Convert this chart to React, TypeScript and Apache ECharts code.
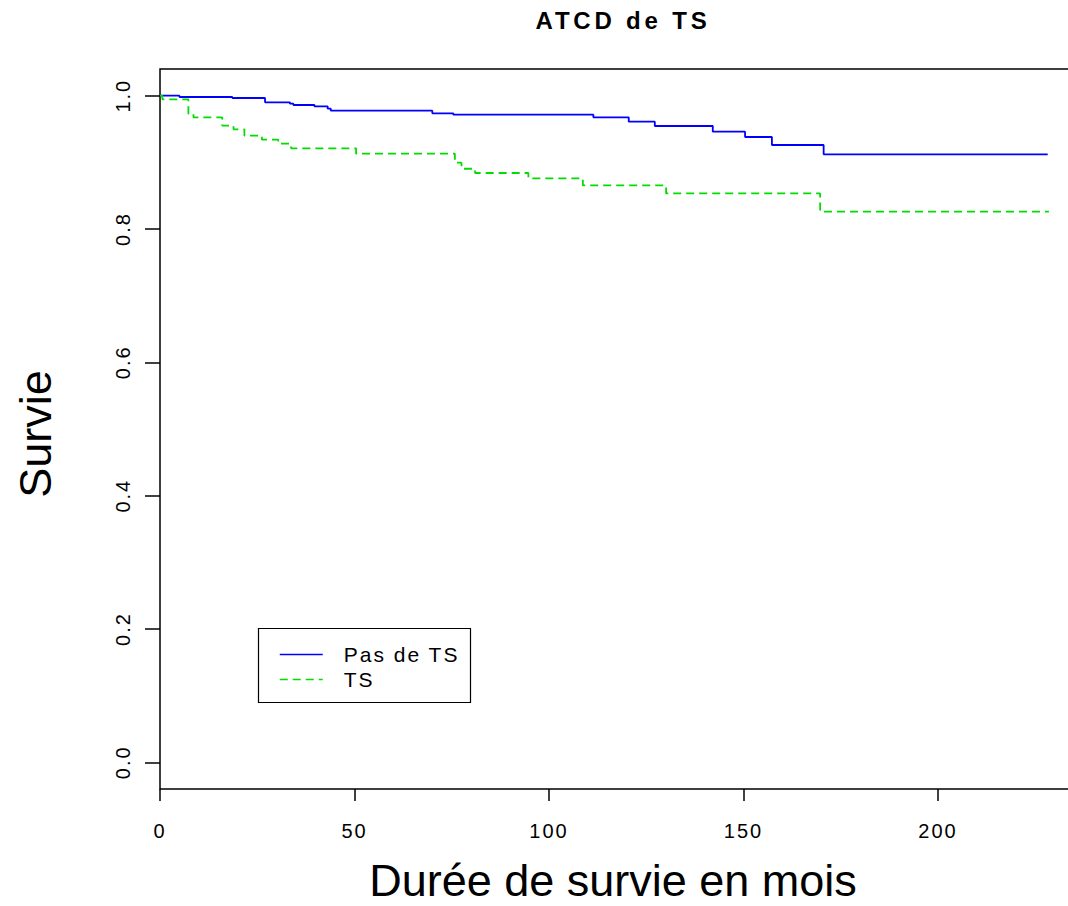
import React, { useEffect, useRef } from "react";
import * as echarts from "echarts";

const chartTitle = "ATCD de TS";
const xAxisTitle = "Durée de survie en mois";
const yAxisTitle = "Survie";
const seriesNames = ["Pas de TS", "TS"];
const xTicks = [0, 50, 100, 150, 200];
const yTicks = [0, 0.2, 0.4, 0.6, 0.8, 1.0];

// Kaplan-Meier steps: time (months) and survival after the event at that time
const pasDeTSTimes = [0, 5, 18.6, 27, 33.4, 34.3, 39.7, 43.1, 43.9, 70, 75.4, 111.4, 120.5, 127.2, 142.1, 150.4, 157.3, 170.6, 228.2];
const pasDeTSSurvival = [1.0, 0.998, 0.9965, 0.99, 0.988, 0.986, 0.984, 0.9805, 0.9775, 0.9735, 0.9715, 0.9675, 0.961, 0.9545, 0.946, 0.938, 0.926, 0.912, 0.912];

const tsTimes = [0, 0.6, 7.3, 8.6, 16, 18.9, 21.7, 26.2, 30.4, 33.7, 50.4, 75.8, 77.5, 81, 94.7, 108.7, 130.1, 169.7, 228.5];
const tsSurvival = [1.0, 0.9945, 0.973, 0.9675, 0.955, 0.9495, 0.94, 0.934, 0.928, 0.921, 0.913, 0.8995, 0.8904, 0.884, 0.876, 0.8653, 0.8533, 0.826, 0.826];

const FONT = "'Liberation Sans', Arial, Helvetica, sans-serif";
const BLUE = "#0000ff";
const GREEN = "#00dd00";

export default function App() {
  const ref = useRef<HTMLDivElement>(null);

  useEffect(() => {
    if (!ref.current) return;
    const chart = echarts.init(ref.current, undefined, { renderer: "svg" });
    const toPairs = (ts: number[], vs: number[]) => ts.map((t, i) => [t, vs[i]]);

    chart.setOption({
      animation: false,
      backgroundColor: "#ffffff",
      grid: {
        left: 160,
        right: 0,
        top: 69,
        bottom: 117,
        show: true,
        borderColor: "#000",
        borderWidth: 1.5,
        backgroundColor: "transparent",
      },
      xAxis: {
        type: "value",
        min: 0,
        max: 236.5,
        interval: 50,
        splitLine: { show: false },
        axisLine: { show: false, onZero: false },
        axisTick: {
          show: true,
          inside: false,
          length: 12,
          customValues: xTicks,
          lineStyle: { color: "#000", width: 1.5 },
        },
        axisLabel: {
          customValues: xTicks,
          margin: 32,
          color: "#000",
          fontFamily: FONT,
          fontSize: 20,
          formatter: (v: number) => String(v),
        },
      },
      yAxis: {
        type: "value",
        min: -0.04,
        max: 1.04,
        splitLine: { show: false },
        axisLine: { show: false, onZero: false },
        axisTick: {
          show: true,
          inside: false,
          length: 15,
          customValues: yTicks,
          lineStyle: { color: "#000", width: 1.5 },
        },
        axisLabel: {
          customValues: yTicks,
          rotate: 90,
          margin: 27,
          color: "#000",
          fontFamily: FONT,
          fontSize: 20,
          formatter: (v: number) => v.toFixed(1),
        },
      },
      legend: {
        data: seriesNames,
        orient: "vertical",
        left: 279,
        top: 644,
        padding: 0,
        itemWidth: 43,
        itemHeight: 14,
        itemGap: 4,
        selectedMode: false,
        itemStyle: { opacity: 0 },
        lineStyle: { width: 1.5 },
        textStyle: {
          color: "#000",
          fontFamily: FONT,
          fontSize: 21,
          padding: [8, 0, 0, 16],
        },
      },
      series: [
        {
          name: seriesNames[0],
          type: "line",
          step: "end",
          symbol: "none",
          showSymbol: false,
          data: toPairs(pasDeTSTimes, pasDeTSSurvival),
          lineStyle: { color: BLUE, width: 1.8, type: "solid" },
          itemStyle: { color: BLUE },
          emphasis: { disabled: true },
          silent: true,
        },
        {
          name: seriesNames[1],
          type: "line",
          step: "end",
          symbol: "none",
          showSymbol: false,
          data: toPairs(tsTimes, tsSurvival),
          lineStyle: { color: GREEN, width: 1.8, type: [8, 5] },
          itemStyle: { color: GREEN },
          emphasis: { disabled: true },
          silent: true,
        },
      ],
      graphic: [
        {
          type: "text",
          x: 623,
          y: 20,
          style: {
            text: chartTitle,
            fontFamily: FONT,
            fontSize: 24,
            fontWeight: "bold",
            fill: "#000",
            align: "center",
            verticalAlign: "middle",
          },
        },
        {
          type: "text",
          x: 613,
          y: 880,
          style: {
            text: xAxisTitle,
            fontFamily: FONT,
            fontSize: 45,
            fill: "#000",
            align: "center",
            verticalAlign: "middle",
          },
        },
        {
          type: "text",
          x: 35,
          y: 434,
          rotation: Math.PI / 2,
          style: {
            text: yAxisTitle,
            fontFamily: FONT,
            fontSize: 45,
            fill: "#000",
            align: "center",
            verticalAlign: "middle",
          },
        },
        {
          type: "rect",
          shape: { x: 258.5, y: 628.5, width: 212, height: 74 },
          style: { fill: "none", stroke: "#000", lineWidth: 1.2 },
          silent: true,
        },
      ],
    });

    return () => {
      chart.dispose();
    };
  }, []);

  return (
    <div style={{ position: "absolute", left: 0, top: 0, width: 1068, height: 906, overflow: "hidden", background: "#fff" }}>
      <style>{`
        .km-chart text[style*="24px"] { letter-spacing: 3.8px; }
        .km-chart text[style*="20px"] { letter-spacing: 2px; }
        .km-chart text[style*="21px"] { letter-spacing: 2px; }
      `}</style>
      <div
        ref={ref}
        className="km-chart"
        style={{ position: "absolute", left: 0, top: 0, width: 1080, height: 906, background: "#fff" }}
      />
    </div>
  );
}
